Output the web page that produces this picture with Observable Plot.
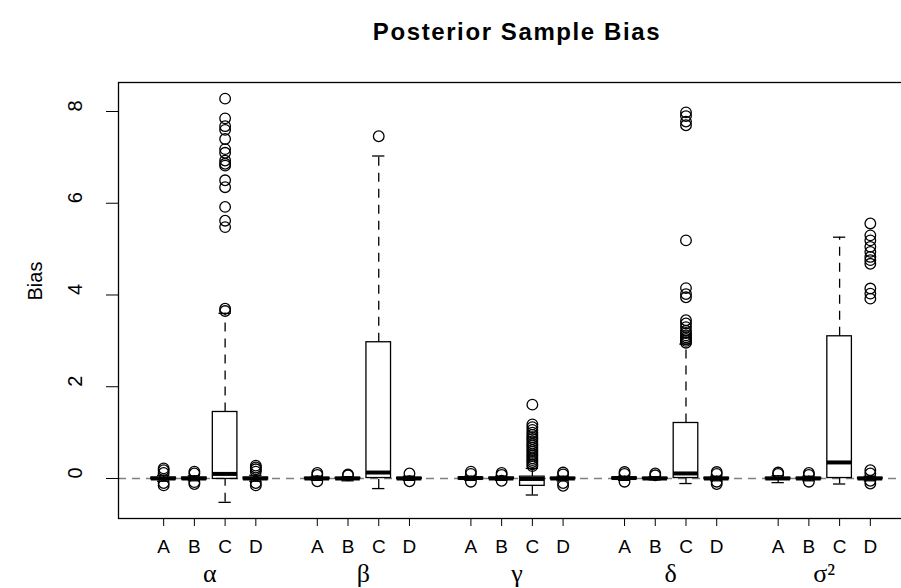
<!DOCTYPE html>
<html>
<head>
<meta charset="utf-8">
<script src="https://cdn.jsdelivr.net/npm/d3@7"></script>
<script src="https://cdn.jsdelivr.net/npm/@observablehq/plot@0.6"></script>
<style>
  html, body { margin: 0; padding: 0; background: white; overflow: hidden; }
</style>
</head>
<body>
<div id="chart"></div>
<script>
// Parameter groups and methods
const groups = ["α", "β", "γ", "δ", "σ²"];
const methods = ["A", "B", "C", "D"];
const yTicks = [0, 2, 4, 6, 8];
const title = "Posterior Sample Bias";
const yLabel = "Bias";

// Box summaries, order: α-A, α-B, α-C, α-D, β-A, ... σ²-D
const lowerWhisker = [-0.06, -0.05, -0.52, -0.06,  -0.04, -0.05, -0.22, -0.04,  -0.04, -0.04, -0.36, -0.05,  -0.04, -0.03, -0.11, -0.05,  -0.09, -0.05, -0.12, -0.05];
const q1           = [-0.02, -0.02, -0.01, -0.02,  -0.015, -0.01, 0.01, -0.015, -0.015, -0.01, -0.16, -0.015, -0.015, -0.01, 0.01, -0.015, -0.015, -0.015, 0.01, -0.015];
const median       = [0.00, 0.00, 0.10, 0.00,  0.00, 0.00, 0.13, 0.00,  0.01, 0.00, -0.01, 0.00,  0.01, 0.00, 0.11, 0.00,  0.00, 0.00, 0.35, 0.00];
const q3           = [0.02, 0.02, 1.45, 0.02,  0.015, 0.015, 2.97, 0.015,  0.02, 0.02, 0.04, 0.015,  0.02, 0.015, 1.21, 0.015,  0.015, 0.015, 3.10, 0.015];
const upperWhisker = [0.07, 0.06, 3.60, 0.07,  0.05, 0.04, 7.03, 0.05,  0.05, 0.05, 0.22, 0.05,  0.05, 0.04, 2.93, 0.05,  0.06, 0.05, 5.26, 0.05];
const outliers = [
  [0.22, 0.18, 0.12, -0.10, -0.15],
  [0.15, 0.11, -0.08, -0.12],
  [3.65, 3.70, 5.48, 5.62, 5.92, 6.35, 6.50, 6.82, 6.86, 6.93, 7.10, 7.18, 7.40, 7.60, 7.68, 7.85, 8.28],
  [0.28, 0.24, 0.20, 0.15, -0.10, -0.15],
  [0.12, 0.08, -0.06],
  [0.09, 0.07],
  [7.46],
  [0.11, -0.06],
  [0.15, 0.10, -0.07],
  [0.12, 0.08, -0.05],
  [0.27, 0.31, 0.36, 0.40, 0.44, 0.49, 0.53, 0.58, 0.62, 0.67, 0.72, 0.76, 0.81, 0.86, 0.90, 0.95, 1.00, 1.06, 1.12, 1.18, 1.61],
  [0.13, 0.09, -0.10, -0.16],
  [0.14, 0.10, -0.07],
  [0.11, 0.07],
  [2.96, 3.00, 3.04, 3.08, 3.12, 3.17, 3.22, 3.30, 3.38, 3.45, 3.95, 4.02, 4.15, 5.19, 7.70, 7.78, 7.90, 7.98],
  [0.14, 0.10, -0.07, -0.12],
  [0.13, 0.10],
  [0.12, 0.08, -0.07],
  [],
  [5.56, 5.30, 5.19, 5.05, 4.94, 4.83, 4.76, 4.68, 4.14, 4.03, 3.92, 0.18, 0.11, -0.05, -0.11]
];

// Build tables (positions 1-4, 6-9, 11-14, ... like R boxplot 'at')
const boxes = [];
const outlierRows = [];
groups.forEach((g, gi) => {
  methods.forEach((m, mi) => {
    const i = gi * 4 + mi;
    const pos = gi * 5 + mi + 1;
    boxes.push({group: g, method: m, pos, lw: lowerWhisker[i], q1: q1[i], med: median[i], q3: q3[i], uw: upperWhisker[i]});
    outliers[i].forEach(v => outlierRows.push({pos, v}));
  });
});
const tickPositions = boxes.map(d => d.pos);
const groupCenters = groups.map((g, gi) => ({g, x: gi * 5 + 2.5}));

const half = 0.4;   // box half width
const capHalf = 0.2;
const lw = 1.3;

const chart = Plot.plot({
  width: 901,
  height: 588,
  marginLeft: 118,
  marginRight: -14,
  marginTop: 82,
  marginBottom: 70,
  x: {domain: [-0.47, 25.47], axis: null},
  y: {domain: [-0.872, 8.632], axis: null},
  style: {fontFamily: "'Liberation Sans', Arial, Helvetica, sans-serif", background: "white", color: "black"},
  marks: [
    Plot.ruleY([0], {stroke: "#808080", strokeDasharray: "8,6", strokeWidth: lw}),
    Plot.ruleX(boxes, {x: "pos", y1: "q3", y2: "uw", stroke: "black", strokeWidth: lw, strokeDasharray: "9,7"}),
    Plot.ruleX(boxes, {x: "pos", y1: "lw", y2: "q1", stroke: "black", strokeWidth: lw, strokeDasharray: "9,7"}),
    Plot.ruleY(boxes, {y: "uw", x1: d => d.pos - capHalf, x2: d => d.pos + capHalf, stroke: "black", strokeWidth: lw}),
    Plot.ruleY(boxes, {y: "lw", x1: d => d.pos - capHalf, x2: d => d.pos + capHalf, stroke: "black", strokeWidth: lw}),
    Plot.rect(boxes, {x1: d => d.pos - half, x2: d => d.pos + half, y1: "q1", y2: "q3", fill: "none", stroke: "black", strokeWidth: lw}),
    Plot.ruleY(boxes, {y: "med", x1: d => d.pos - half, x2: d => d.pos + half, stroke: "black", strokeWidth: 4}),
    Plot.dot(outlierRows, {x: "pos", y: "v", r: 5.3, stroke: "black", fill: "none", strokeWidth: lw}),
    Plot.frame({stroke: "black", strokeWidth: lw}),
    Plot.axisX(tickPositions, {tickSize: 8, tickPadding: 13, fontSize: 19, label: null, tickFormat: d => methods[(d - 1) % 5]}),
    Plot.axisY(yTicks, {tickSize: 12, label: null, tickFormat: () => ""}),
    Plot.text(yTicks, {y: d => d, text: d => String(d), frameAnchor: "left", dx: -43, rotate: -90, fontSize: 20}),
    Plot.text([yLabel], {text: d => d, frameAnchor: "left", dx: -83, rotate: -90, fontSize: 20}),
    Plot.text([title], {text: d => d, frameAnchor: "top", lineAnchor: "middle", dy: -50, fontSize: 24, fontWeight: "bold"}),
    Plot.text(groupCenters, {x: "x", text: "g", frameAnchor: "bottom", dy: 63, fontSize: 26, fontFamily: "'Liberation Serif', 'Times New Roman', serif"})
  ]
});
// widen the title's letter spacing to match the reference's wider lettering
d3.select(chart).selectAll("text").filter(function() { return this.textContent === title; }).attr("letter-spacing", "1.6px");
document.getElementById("chart").appendChild(chart);
</script>
</body>
</html>
